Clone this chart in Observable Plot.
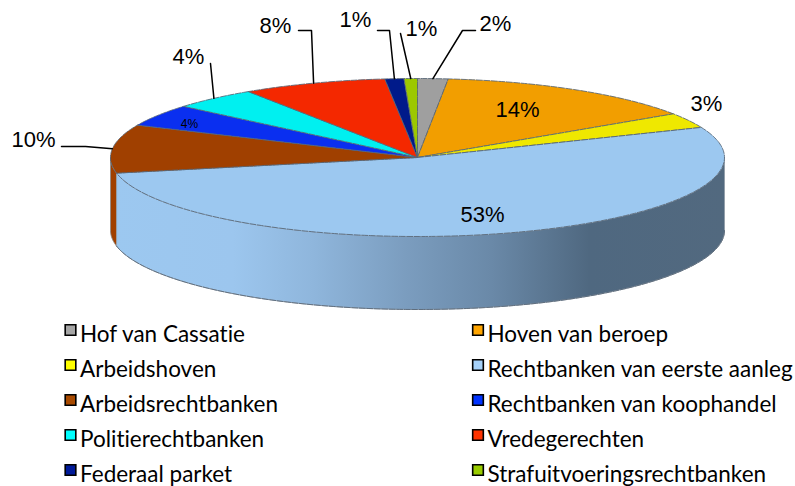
<!DOCTYPE html>
<html><head><meta charset="utf-8">
<script src="https://cdn.jsdelivr.net/npm/d3@7"></script>
<script src="https://cdn.jsdelivr.net/npm/@observablehq/plot@0.6"></script>
<style>html,body{margin:0;padding:0;background:#fff}svg{display:block;font-variant-ligatures:none}</style>
</head><body><div id="chart"></div>
<script>
// Data
const categories = ["Hof van Cassatie","Hoven van beroep","Arbeidshoven","Rechtbanken van eerste aanleg","Arbeidsrechtbanken","Rechtbanken van koophandel","Politierechtbanken","Vredegerechten","Federaal parket","Strafuitvoeringsrechtbanken"];
const shares = [1.6,14.1,3.1,53.1,9.9,4.5,4.5,7.6,1.0,0.7];
const shareLabels = ["2%","14%","3%","53%","10%","4%","4%","8%","1%","1%"];
// Styles
const sliceColors = ["#9f9f9f","#f29e00","#efe800","#9cc8f0","#a04000","#0a2ff0","#00f0f0","#f42800","#001a8a","#9cc800"];
const swatchColors = ["#a6a6a6","#ffa500","#ffff00","#a6d2fa","#a84a00","#0033ff","#00ffff","#ff3300","#001a99","#99cc00"];
// Layout
const cx=417, cy=157, rx=307, ry=79, depth=73;
const labelPos = [[495,23],[517,109],[706,103],[482,214],[33,139],[189,124],[188,56],[275,25],[355,19],[421,28]];
const leaderFrom = [[[475,30],[462,30]],null,null,null,[[61,146],[85,146]],null,[[210,63]],[[298,30],[311,30]],[[377,30],[389,30]],[[400,33]]];
const fontSans = "Liberation Sans, Arial, sans-serif";
const fontLegend = "Lato, sans-serif";

const total = d3.sum(shares);
let acc = 0;
const slices = shares.map((s,i)=>{const a0=acc/total*2*Math.PI; acc+=s; const a1=acc/total*2*Math.PI; return {i,a0,a1,mid:(a0+a1)/2};});
const rim = (a,dy=0)=>({x:cx+rx*Math.sin(a), y:cy-ry*Math.cos(a)+dy});
const arc = (a0,a1,dy=0)=>{const n=Math.max(2,Math.ceil((a1-a0)/0.02));return d3.range(n+1).map(k=>rim(a0+(a1-a0)*k/n,dy));};
const edge = {stroke:"#566575",strokeWidth:1,strokeDasharray:"6 1.5",strokeOpacity:0.85};

const marks = [];
// Side walls
const lb = slices[3], br = slices[4];
const leftmost = 1.5*Math.PI;
const brownSide = [...arc(br.a0,leftmost),...arc(br.a0,leftmost,depth).reverse()];
marks.push(Plot.line(brownSide,{x:"x",y:"y",fill:sliceColors[4],stroke:"#8a8a8a",strokeWidth:.8}));
const sideStart = Math.PI/2;
const blueSide = [...arc(sideStart,lb.a1),...arc(sideStart,lb.a1,depth).reverse()];
marks.push(Plot.line([...blueSide,blueSide[0]],{x:"x",y:"y",fill:"url(#sideGrad)",stroke:"#8f9aa6",strokeWidth:.8}));
marks.push(Plot.line(arc(sideStart,lb.a1,depth),{x:"x",y:"y",...edge}));
// Top slices
for (const s of slices){
  const pts=[{x:cx,y:cy},...arc(s.a0,s.a1),{x:cx,y:cy}];
  marks.push(Plot.line(pts,{x:"x",y:"y",fill:sliceColors[s.i],...edge}));
}
// Leaders
slices.forEach(s=>{
  if(!leaderFrom[s.i])return;
  const e=rim(s.mid);
  marks.push(Plot.line([...leaderFrom[s.i].map(([x,y])=>({x,y})),e],{x:"x",y:"y",stroke:"#000",strokeWidth:1.5}));
});
// Share labels
const labelRows = shareLabels.map((t,i)=>({t,x:labelPos[i][0],y:labelPos[i][1],small:i===5}));
marks.push(Plot.text(labelRows.filter(d=>!d.small),{x:"x",y:"y",text:"t",fontSize:22,fontFamily:fontSans,fill:"#000"}));
marks.push(Plot.text(labelRows.filter(d=>d.small),{x:"x",y:"y",text:"t",fontSize:12,fontFamily:fontSans,fill:"#000"}));
// Legend
const legendRows = categories.map((c,i)=>({c,i,col:i%2,row:Math.floor(i/2)}));
const colX=[70,477.5], rowY=r=>329.5+r*35;
marks.push(Plot.dot(legendRows,{x:d=>colX[d.col],y:d=>rowY(d.row),symbol:"square",r:6,fill:d=>swatchColors[d.i],stroke:"#000",strokeWidth:1.6}));
marks.push(Plot.text(legendRows,{x:d=>colX[d.col]+9.5,y:d=>rowY(d.row)+4.5,text:"c",textAnchor:"start",fontSize:22.5,fontFamily:fontLegend,fill:"#000"}));

const svg = Plot.plot({width:795,height:486,margin:0,
  x:{domain:[0,795],range:[0,795],axis:null},
  y:{domain:[0,486],range:[0,486],axis:null},
  color:{type:"identity"},
  marks});
const grad = d3.select(svg).insert("defs",":first-child").append("linearGradient")
  .attr("id","sideGrad").attr("gradientUnits","userSpaceOnUse").attr("x1",110).attr("x2",724).attr("y1",0).attr("y2",0);
[[0,"#9cc8f0"],[.2,"#9cc6ee"],[.33,"#8fb6dc"],[.48,"#7b9dbf"],[.62,"#6a89a8"],[.78,"#4f6880"],[1,"#52697f"]]
  .forEach(([o,c])=>grad.append("stop").attr("offset",o).attr("stop-color",c));
document.getElementById("chart").append(svg);
</script></body></html>
